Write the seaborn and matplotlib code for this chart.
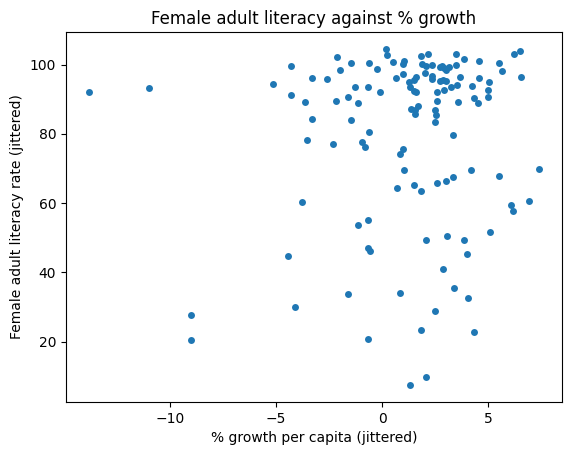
import pandas as pd
import matplotlib
matplotlib.use("Agg")
import matplotlib.pyplot as plt
import seaborn as sns

# valores (x = % crecimiento, y = alfabetizacion femenina)
growth = [
    -13.85, -11.02, -5.13, -4.29, -3.29, -4.29, -3.62, -3.29, -3.54, -3.76,
    -4.42, -4.09, -9.04, -9.04, -2.11, -1.49, -1.97, -0.60, -0.22, 0.16,
    0.25, 0.53, 1.05, 1.00, 0.63, 1.00, -2.58, -1.26, -0.69, -0.08,
    -1.59, -2.16, -1.13, -1.45, 1.81, 2.18, 1.90, 2.08, 2.36, 2.00,
    2.33, 2.33, 1.59, 1.48, 1.27, 1.32, 1.48, 1.59, 2.61, 2.61,
    1.35, 1.70, 1.54, 1.56, 2.47, 2.56, 2.47, 3.50, 3.88, 4.59,
    5.53, 5.63, 6.24, 6.48, 6.57, 2.72, 2.81, 3.00, 3.13, 2.94,
    3.50, 3.68, 4.59, 5.06, 2.72, 2.88, 3.00, 3.27, 3.55, 2.94,
    4.26, 4.97, 5.01, 4.31, 4.50, 3.60,
    -0.60, -2.30, -0.93, -0.83, 0.96, 0.82, 1.05, 0.72, 1.48, 1.85,
    2.61, -0.69, -1.12, 3.32, 2.99, 3.36, 4.17, 5.53, 7.42, 6.95,
    6.10, 6.15, 2.05, -0.69, -0.55, -1.59, 0.86, 2.47, 1.85, -0.69,
    2.09, 1.33, 3.08, 3.88, 5.11, 4.02, 2.89, 3.41, 4.07, 4.31,
]
literacy = [
    92.1, 93.3, 94.4, 99.6, 96.2, 91.2, 89.3, 84.4, 78.3, 60.3,
    44.7, 30.0, 27.7, 20.4, 102.2, 100.6, 98.5, 100.5, 98.8, 104.6,
    102.8, 100.9, 101.2, 100.3, 96.2, 97.3, 95.9, 93.6, 93.6, 92.1,
    90.7, 89.5, 88.9, 84.0, 102.5, 103.2, 100.2, 99.6, 99.9, 97.7,
    96.8, 95.9, 96.6, 95.5, 95.0, 93.6, 92.5, 92.1, 92.1, 89.5,
    87.3, 88.0, 85.8, 87.0, 87.0, 85.5, 83.4, 103.2, 101.7, 101.1,
    100.5, 98.3, 103.1, 104.0, 96.5, 99.3, 99.6, 98.4, 99.4, 99.0,
    99.9, 96.4, 96.2, 95.0, 95.2, 95.6, 95.2, 93.6, 94.1, 92.8,
    93.8, 92.7, 90.7, 90.4, 88.9, 89.2,
    80.5, 77.1, 77.7, 76.2, 75.6, 74.2, 69.6, 64.4, 65.2, 63.5,
    65.8, 55.1, 53.7, 79.7, 66.4, 67.5, 69.6, 67.8, 69.9, 60.6,
    59.4, 57.7, 49.3, 47.0, 46.2, 33.7, 34.0, 28.8, 23.3, 20.7,
    9.7, 7.4, 50.5, 49.3, 51.6, 45.3, 41.0, 35.5, 32.6, 22.7,
]

df = pd.DataFrame({"growth": growth, "literacy": literacy})

fig = plt.figure(figsize=(5.71, 4.55), dpi=100)
ax = fig.add_axes([66 / 571, 1 - 402 / 455, 496 / 571, 370 / 455])

sns.scatterplot(x="growth", y="literacy", data=df, ax=ax,
                color="#1f77b4", s=25, linewidth=0)

ax.set_title("Female adult literacy against % growth")
ax.set_xlabel("% growth per capita (jittered)")
ax.set_ylabel("Female adult literacy rate (jittered)")

fig.savefig("out.png", dpi=100)
